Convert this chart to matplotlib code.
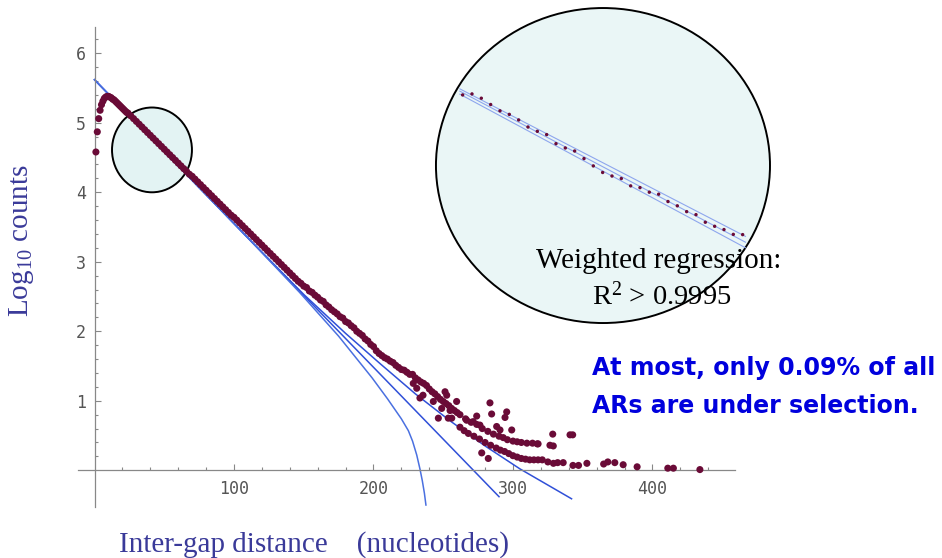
import matplotlib
matplotlib.use("Agg")
import matplotlib.pyplot as plt
from matplotlib.patches import Ellipse
from matplotlib.ticker import FixedLocator, NullFormatter

# ---- values ----
# rising start + hump (one point per nucleotide)
HUMP_X = list(range(1, 24))
HUMP_Y = [4.58, 4.87, 5.06, 5.18, 5.26, 5.31, 5.35, 5.37, 5.38, 5.38,
          5.37, 5.36, 5.34, 5.33, 5.31, 5.29, 5.27, 5.25, 5.23, 5.21,
          5.19, 5.17, 5.15]

# dense linear band, sampled every 2 nt
BAND_X = list(range(24, 262, 2))
BAND_Y = [5.14, 5.10, 5.06, 5.02, 4.98, 4.94, 4.90, 4.86, 4.82, 4.78,
          4.74, 4.70, 4.66, 4.62, 4.58, 4.54, 4.50, 4.46, 4.42, 4.38,
          4.34, 4.30, 4.26, 4.23, 4.19, 4.15, 4.11, 4.07, 4.03, 3.99,
          3.95, 3.91, 3.87, 3.83, 3.79, 3.75, 3.71, 3.67, 3.64, 3.60,
          3.56, 3.52, 3.48, 3.44, 3.40, 3.36, 3.32, 3.28, 3.24, 3.20,
          3.16, 3.12, 3.08, 3.04, 3.00, 2.96, 2.92, 2.88, 2.84, 2.80,
          2.76, 2.72, 2.69, 2.65, 2.63, 2.58, 2.56, 2.52, 2.49, 2.45,
          2.43, 2.38, 2.35, 2.31, 2.28, 2.25, 2.21, 2.19, 2.14, 2.12,
          2.08, 2.05, 2.00, 1.97, 1.94, 1.89, 1.86, 1.81, 1.78, 1.72,
          1.68, 1.65, 1.62, 1.60, 1.57, 1.55, 1.51, 1.48, 1.45, 1.44,
          1.41, 1.38, 1.38, 1.33, 1.30, 1.27, 1.25, 1.22, 1.17, 1.13,
          1.10, 1.06, 1.02, 0.99, 0.96, 0.93, 0.89, 0.86, 0.83]

# noisy tail: upper row, lower row and scattered points
TAIL_X = [262, 266, 270, 274, 278, 282, 286, 290, 293, 296, 300, 303, 306, 310, 314, 318,
          262, 265, 268, 272, 276, 280, 284, 288, 291, 294, 297, 300, 303, 306, 309, 312,
          315, 318, 321, 325, 329, 332, 336, 343, 347, 353, 365, 368, 373, 379, 389, 411,
          415, 434,
          228.5, 231, 233.3, 235.5, 242.9, 246.5, 248.9, 253.6, 256.1, 251.3, 252.5, 254.9,
          259.6, 266.8, 271.5, 274, 276.3, 283.5, 284.7, 288.3, 290.7, 294.3, 295.5, 299.1,
          277.6, 282.3, 326.5, 328.9, 328.5, 340.9, 342.8, 317.4]
TAIL_Y = [0.80, 0.74, 0.69, 0.66, 0.60, 0.56, 0.52, 0.49, 0.47, 0.44, 0.42, 0.41, 0.40, 0.39, 0.39, 0.38,
          0.62, 0.57, 0.53, 0.49, 0.45, 0.40, 0.36, 0.32, 0.29, 0.27, 0.24, 0.21, 0.19, 0.17, 0.16, 0.15,
          0.15, 0.15, 0.15, 0.12, 0.10, 0.11, 0.11, 0.07, 0.07, 0.10, 0.09, 0.12, 0.11, 0.08, 0.05, 0.03,
          0.03, 0.01,
          1.25, 1.18, 1.04, 1.08, 0.99, 0.75, 0.89, 0.75, 0.75, 1.13, 1.08, 0.86,
          0.99, 0.72, 0.70, 0.78, 0.65, 0.97, 0.81, 0.63, 0.58, 0.76, 0.84, 0.58,
          0.25, 0.17, 0.36, 0.35, 0.52, 0.51, 0.51, 0.38]

# fitted lines (straight regression, upper and lower curves)
FIT_X = [0, 290]
FIT_Y = [5.62, -0.38]
UPPER_X = [0, 60, 113, 150, 180, 205, 230, 255, 280, 305, 342]
UPPER_Y = [5.62, 4.38, 3.28, 2.53, 1.97, 1.53, 1.10, 0.71, 0.35, 0.02, -0.41]
LOWER_X = [0, 113, 147, 175, 199, 210, 220, 225, 228, 231, 233.3, 235.0, 236.5, 237.6]
LOWER_Y = [5.62, 3.28, 2.56, 1.93, 1.33, 1.03, 0.74, 0.57, 0.42, 0.22, 0.02, -0.15, -0.33, -0.50]

# magnified view inside the big circle
ZOOM_X = list(range(20, 51))
ZOOM_Y = [5.250, 5.254, 5.237, 5.212, 5.187, 5.173, 5.151, 5.123, 5.106, 5.093,
          5.057, 5.040, 5.028, 4.998, 4.969, 4.943, 4.929, 4.919, 4.890, 4.883,
          4.865, 4.857, 4.828, 4.811, 4.788, 4.776, 4.746, 4.730, 4.717, 4.698,
          4.697]
ZOOM_LINE_X = [19.7, 50.3]
ZOOM_UP = [5.274, 4.690]
ZOOM_MID = [5.265, 4.667]
ZOOM_LO = [5.253, 4.645]

X_MAJOR = [100, 200, 300, 400]
Y_MAJOR = [1, 2, 3, 4, 5, 6]

DOT = "#6a0b37"
LINE = "#3050d8"
LABEL = "#3a3a99"
GREY = "#888888"

plt.rcParams.update({
    "mathtext.fontset": "custom",
    "mathtext.rm": "Liberation Serif",
    "mathtext.it": "Liberation Serif:italic",
})

fig = plt.figure(figsize=(9.42, 5.58), dpi=100)
ax = fig.add_axes([0.0833, 0.0912, 0.6967, 0.8606])
ax.set_xlim(-11.5, 459)
ax.set_ylim(-0.53, 6.38)

for side in ("top", "right"):
    ax.spines[side].set_visible(False)
for side in ("left", "bottom"):
    ax.spines[side].set_position(("data", 0))
    ax.spines[side].set_color(GREY)
    ax.spines[side].set_linewidth(0.9)

ax.xaxis.set_major_locator(FixedLocator(X_MAJOR))
ax.yaxis.set_major_locator(FixedLocator(Y_MAJOR))
ax.xaxis.set_minor_locator(FixedLocator([v for v in range(20, 460, 20) if v % 100]))
ax.yaxis.set_minor_locator(FixedLocator([v / 10 for v in range(2, 64, 2) if v % 10]))
ax.xaxis.set_minor_formatter(NullFormatter())
ax.yaxis.set_minor_formatter(NullFormatter())
ax.tick_params(which="both", direction="in", color=GREY, width=0.8)
ax.tick_params(which="major", length=4.5)
ax.tick_params(which="minor", length=2.5)
ax.tick_params(axis="x", which="major", pad=7)
ax.tick_params(axis="y", which="major", pad=6)
for lab in ax.get_xticklabels() + ax.get_yticklabels():
    lab.set_fontfamily("DejaVu Sans Mono")
    lab.set_fontsize(12)
    lab.set_color("#555555")

# small circle marking the magnified region
ax.add_patch(Ellipse((41.2, 4.61), 57.3, 1.22, facecolor="#e3f3f3",
                     edgecolor="black", linewidth=1.4, zorder=2))

ax.plot(FIT_X, FIT_Y, color=LINE, linewidth=1.1, zorder=2.5)
ax.plot(UPPER_X, UPPER_Y, color=LINE, linewidth=1.1, zorder=2.5)
ax.plot(LOWER_X, LOWER_Y, color="#4a70e0", linewidth=1.1, zorder=2.5)

ax.scatter(HUMP_X, HUMP_Y, s=26, color=DOT, edgecolors="none", zorder=3)
ax.scatter(BAND_X, BAND_Y, s=26, color=DOT, edgecolors="none", zorder=3)
ax.scatter(TAIL_X, TAIL_Y, s=26, color=DOT, edgecolors="none", zorder=3)

# big circle inset
ins = fig.add_axes([0.4628, 0.4211, 0.3546, 0.5645])
ins.set_xlim(17.14, 52.93)
ins.set_ylim(4.347, 5.594)
ins.axis("off")
ins.add_patch(Ellipse((0.5, 0.5), 1.0, 1.0, transform=ins.transAxes,
                      facecolor="#eaf6f6", edgecolor="black", linewidth=1.4,
                      clip_on=False, zorder=0))
for ys in (ZOOM_UP, ZOOM_MID, ZOOM_LO):
    ins.plot(ZOOM_LINE_X, ys, color="#8ea6ee", linewidth=0.8, zorder=1)
ins.scatter(ZOOM_X, ZOOM_Y, s=6, color=DOT, edgecolors="none", zorder=2)

fig.text(659 / 942, 1 - 268 / 558, "Weighted regression:", ha="center",
         va="baseline", fontsize=21, family="Liberation Serif", zorder=10)
fig.text(662 / 942, 1 - 305 / 558, r"R$^{2}$ > 0.9995", ha="center",
         va="baseline", fontsize=20.5, family="Liberation Serif", zorder=10)

fig.text(592 / 942, 1 - 375 / 558, "At most, only 0.09% of all", ha="left",
         va="baseline", fontsize=17, fontweight="bold", color="#0000dd",
         family="DejaVu Sans")
fig.text(592 / 942, 1 - 413 / 558, "ARs are under selection.", ha="left",
         va="baseline", fontsize=17, fontweight="bold", color="#0000dd",
         family="DejaVu Sans")

fig.text(22 / 942, 1 - 241 / 558, r"Log$_{10}$ counts", rotation=90,
         ha="center", va="center", fontsize=21, color=LABEL,
         family="Liberation Serif")
fig.text(314 / 942, 1 - 545 / 558, "Inter-gap distance    (nucleotides)",
         ha="center", va="center", fontsize=21, color=LABEL,
         family="Liberation Serif")

fig.savefig("out.png", dpi=100)
